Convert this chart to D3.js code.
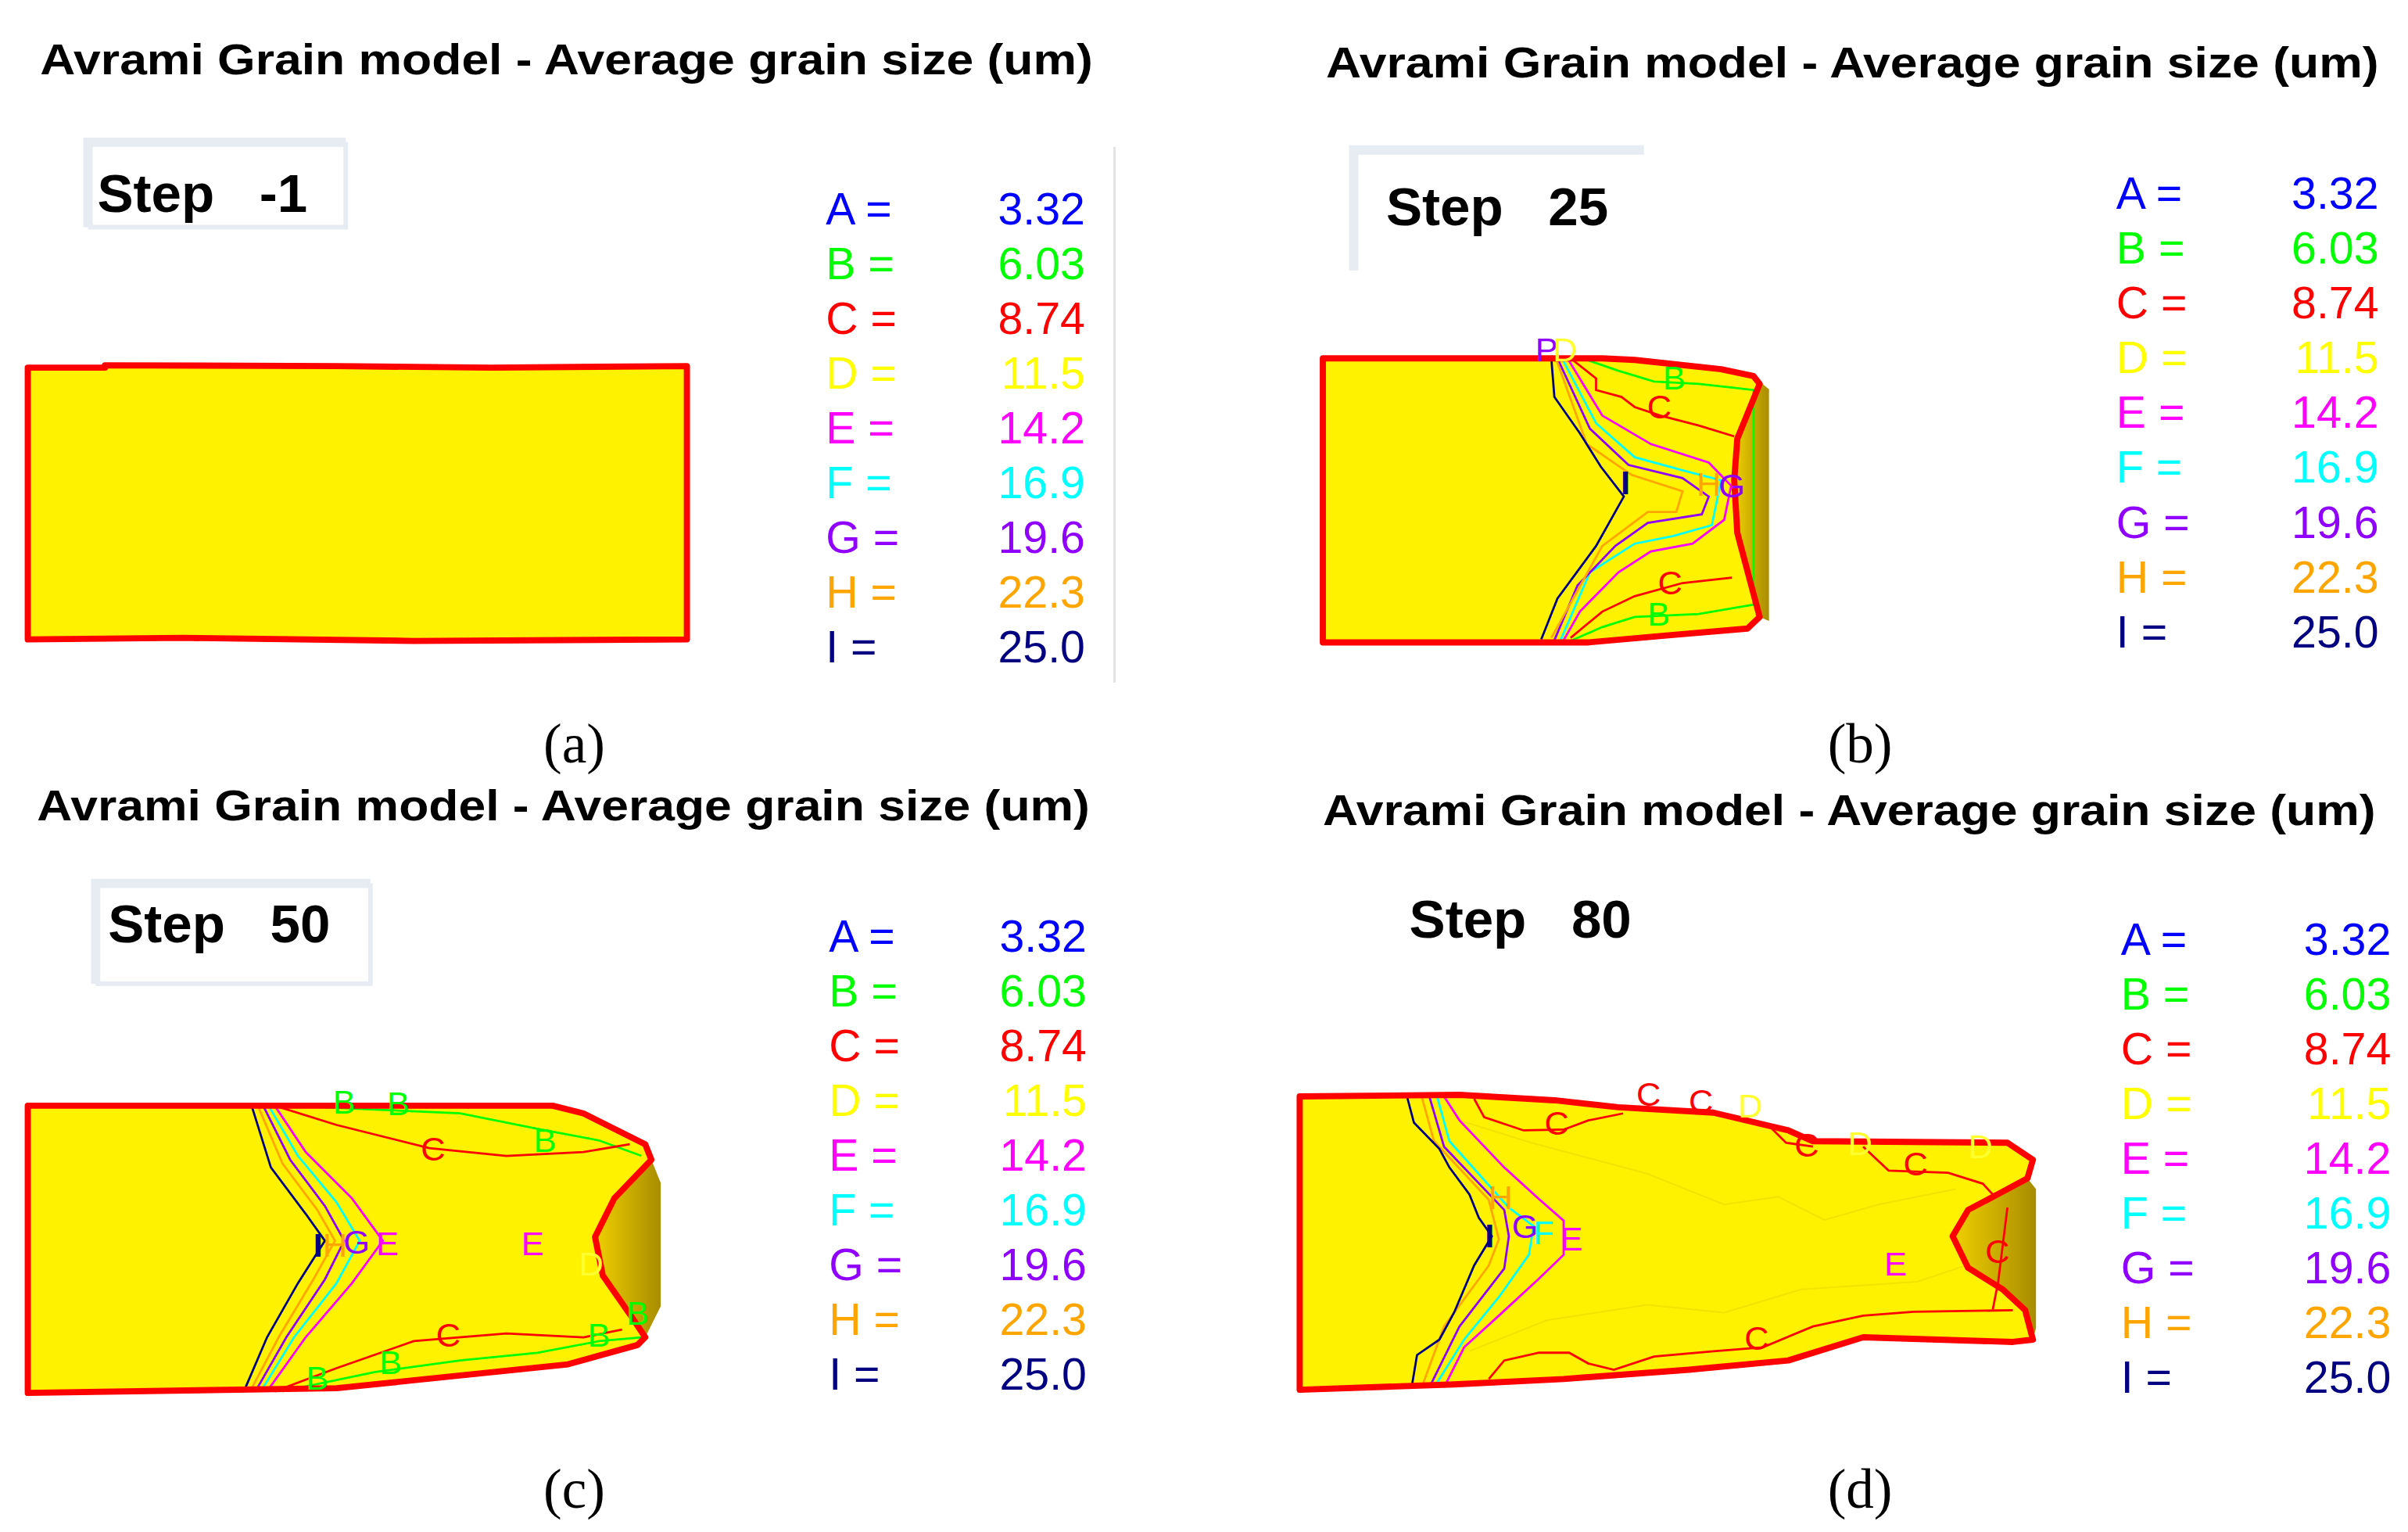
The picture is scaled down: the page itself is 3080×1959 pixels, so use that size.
<!DOCTYPE html>
<html>
<head>
<meta charset="utf-8">
<script src="https://cdn.jsdelivr.net/npm/d3@7"></script>
<style>
  html, body { margin: 0; padding: 0; background: #fff; }
  svg { display: block; }
</style>
</head>
<body>
<div id="chart"></div>
<script>
// legend levels
var levels = ["A", "B", "C", "D", "E", "F", "G", "H", "I"];
var levelValues = ["3.32", "6.03", "8.74", "11.5", "14.2", "16.9", "19.6", "22.3", "25.0"];
var levelColors = ["#0000ff", "#00ff00", "#ff0000", "#ffff00", "#ff00ff", "#00ffff", "#8f00ff", "#ffa500", "#000080"];

var titleText = "Avrami Grain model - Average grain size (um)";
var panelLetters = ["(a)", "(b)", "(c)", "(d)"];
var steps = ["-1", "25", "50", "80"];

// billet outlines, mm from top-left of each billet
var outlineA = [[0,0],[10,0],[10,-0.3],[40,-0.2],[60,0],[85.4,-0.2],[85.4,35.2],[50,35.4],[20,35],[0,35.2]];
var outlineB = [[0,0],[36.2,0],[40.4,0.2],[51.6,1.4],[55.8,2.3],[56.6,3.3],[53.7,10.4],[53.3,15.8],[53.7,22.6],[56.6,33.5],[55,35],[44.5,35.9],[34.2,36.8],[0,36.8]];
var outlineC = [[0,0],[68,0],[72,1],[80,5],[80.8,7],[76,12],[73.5,17],[74.5,22],[78,27],[80,30],[79,31],[70,33.5],[40,36.6],[0,37.2]];
var outlineD = [[0,0],[20.7,-0.2],[33,0.5],[41.3,1.4],[53.6,2.1],[63.3,4.4],[66.5,5.8],[91.7,6],[95,8.2],[94.3,10.6],[90.4,12.7],[86.6,14.7],[84.6,18.1],[86.6,22.2],[91.1,25],[94,27.7],[95,31.5],[92.4,31.8],[73,31.2],[63.3,34.2],[50.4,35.4],[34.2,36.6],[20,37.3],[0,38]];

// shaded die-contact zones
var shadeB = [[56.6,3],[57.8,4],[57.8,34],[56.6,33.5],[53.7,22.6],[53.3,15.8],[53.7,10.4]];
var shadeC = [[80.8,7],[82,10],[82,26],[80,30],[78,27],[74.5,22],[73.5,17],[76,12]];
var shadeD = [[94.3,10.6],[95.4,12],[95.4,30],[95,31.5],[94,27.7],[91.1,25],[86.6,22.2],[84.6,18.1],[86.6,14.7],[90.4,12.7]];

// contour lines [level, points]
var contoursB = [
  ["B", [[34.2,0.2],[38.3,1.6],[42.9,3],[48.7,3.3],[55.8,4.1],[55.8,31.9]]],
  ["B", [[32.1,36.6],[36.2,34.8],[40.4,33.5],[48.7,33.1],[55.8,31.9]]],
  ["C", [[32.1,0],[35.4,2.6],[35.4,4.1],[38.7,5],[40.4,6.3],[43.7,7.4],[48.7,8.7],[53.3,10.1]]],
  ["C", [[32.1,36.2],[36.2,32.8],[40.4,30.8],[46.6,29.1],[53,28.4]]],
  ["E", [[31.7,0],[36.2,7.4],[42.5,11.1],[50,13.5],[52.9,16.5],[52,20.9],[47.9,24],[42.5,25],[38.3,27.7],[33.3,32.8],[31.2,36.5]]],
  ["F", [[31,0],[35.4,8.4],[40.4,12.8],[46.6,14.5],[51.6,15.8],[50.4,21.6],[45.4,23],[40.4,24],[34.6,27.7],[30.8,36.5]]],
  ["G", [[30.4,0],[34.6,9.1],[39.6,13.8],[46.6,15.5],[50,17.9],[49.1,20.2],[42.1,21.3],[37.9,24.3],[33,29.4],[30,36.5]]],
  ["H", [[30.2,0],[34.2,11.1],[40,15.1],[46.6,17.2],[45.8,19.9],[42.1,19.9],[36.2,24.3],[29.6,36.2]]],
  ["I", [[29.6,0],[30,5],[33.3,9.7],[36,14],[39,17.9],[35.4,24.3],[30.4,31.1],[28.3,36.4]]]
];
var contoursC = [
  ["B", [[34,0],[45,0.5],[56,1],[66,3],[74,4.5],[79.5,6.5]]],
  ["B", [[33,37],[45,34.5],[56,33],[66,32],[74,30.5],[79.5,30]]],
  ["C", [[32,0],[40,2.5],[52,5.5],[62,6.5],[72,6],[78,5]]],
  ["C", [[32,37],[40,34],[50,30.5],[62,29.5],[72,30],[77,29]]],
  ["E", [[32,0],[36,6],[42,12],[46,17.5],[42,23],[36,30],[31,37]]],
  ["F", [[31.2,0],[35,6.5],[40,12.5],[43,17.5],[40,23],[34.5,30],[30.2,37]]],
  ["G", [[30.5,0],[34,7],[38.5,13],[41,17.5],[38.5,22.5],[33.5,30],[29.5,37]]],
  ["H", [[29.8,0],[33,7.5],[37.5,13.5],[39.8,17.5],[37,22.5],[32.5,30],[28.8,37]]],
  ["I", [[29,0],[31.5,8],[36,14],[38.5,17.5],[35,23],[31,30],[28,37]]]
];
var contoursD = [
  ["D", [[20.7,3.1],[30,6],[45,10],[55,14],[62,13],[68,16],[75,14],[85,12]]],
  ["D", [[22,33],[32,29],[45,27],[55,28],[65,25],[80,24],[86,22]]],
  ["C", [[22.6,0.3],[23.9,2.7],[29,4.4],[34.2,4.3],[37.4,3.1],[41.9,2.2]]],
  ["C", [[61,4],[63,6],[66.5,6.5]]],
  ["C", [[73,6.5],[76.3,9.6],[84,9.9],[88.5,11.3],[89.8,12.7]]],
  ["C", [[91.7,14.4],[91,20],[90.5,24],[89.8,27.6]]],
  ["C", [[24.5,36.6],[26.5,34.2],[31,33.2],[34.9,33.2],[37.4,34.6],[40.7,35.4],[45.9,33.7],[53.6,33],[60,32.5],[66.5,29.8],[73,28.4],[79.5,27.9],[92.4,27.7]]],
  ["E", [[18.7,0],[20.7,3.1],[26.5,9.2],[31,13.3],[34.2,16.1],[34.2,20.5],[31,23.6],[25.8,28.4],[21.3,32.5],[18.7,37.7]]],
  ["F", [[17.8,0],[19.4,5.8],[27.1,14.4],[30.3,16.8],[29.7,20.5],[25.8,26],[21.3,31.5],[17.4,37.7]]],
  ["G", [[16.8,0],[18.7,6.5],[26.5,14.7],[27.1,18.1],[26.5,22.3],[20.7,29.8],[16.8,37.7]]],
  ["H", [[15.8,0],[17.4,5.8],[24.5,13.4],[25.8,18.5],[24.5,21.9],[18.7,29.8],[15.8,37.7]]],
  ["I", [[13.9,0],[14.8,3.4],[18.1,6.8],[19.4,9.2],[22,12.7],[23.2,15.7],[24.9,18.1],[22.6,21.9],[20,28],[18.1,31.5],[15.2,33.5],[14.5,37.7]]]
];

// contour labels [level, x, y]
var labelsB = [["P",29,-1.2],["D",31.4,-1.2],["B",45.5,2.4],["C",43.6,6.2],["H",50,16.2],["G",53,16.4],["C",45,29],["B",43.5,33],["I",39.2,16]];
var labelsC = [["B",41,-0.6],["B",48,-0.4],["C",52.5,5.5],["B",67,4.4],["I",37.6,18],["H",39.8,18],["G",42.6,17.6],["E",46.6,17.8],["E",65.4,17.8],["D",73,20.4],["C",54.5,29.6],["B",74,29.6],["B",79,26.8],["B",47,33.2],["B",37.5,35.2]];
var labelsD = [["C",45.2,-0.4],["C",52,0.5],["D",58.4,1.2],["C",33.3,3.4],["C",65.7,6.2],["D",72.6,6],["D",88.2,6.4],["C",79.8,8.6],["H",26,13],["G",29.2,16.8],["F",31.6,17.6],["E",35.2,18.4],["E",77.2,21.6],["C",90.4,20],["C",59.2,31.2],["I",24.6,18]];

var panels = [
  {ox: 18,  oy: 238, outline: outlineA, shade: null,   contours: [],        labels: [],       cx: 367,  ty: 48, box: [57,92,167,55],  stepX: 63,  stepY: 137, legX: 535,  legR: 703,  legY: 135, capY: 481},
  {ox: 857, oy: 232, outline: outlineB, shade: shadeB, contours: contoursB, labels: labelsB, cx: 1200, ty: 50, box: [877,97,188,78], stepX: 898, stepY: 146, legX: 1371, legR: 1541, legY: 125, capY: 481},
  {ox: 18,  oy: 716, outline: outlineC, shade: shadeC, contours: contoursC, labels: labelsC, cx: 365,  ty: 531, box: [62,572,178,65], stepX: 70, stepY: 610, legX: 537,  legR: 704,  legY: 606, capY: 964},
  {ox: 842, oy: 710, outline: outlineD, shade: shadeD, contours: contoursD, labels: labelsD, cx: 1198, ty: 534, box: null,          stepX: 913, stepY: 607, legX: 1374, legR: 1549, legY: 608, capY: 964}
];

var W = 1560, H = 992;
var svg = d3.select("#chart").append("svg")
  .attr("width", 3080).attr("height", 1959)
  .attr("viewBox", "0 0 " + W + " " + H);

var color = d3.scaleOrdinal().domain(levels).range(levelColors);
var valueOf = d3.scaleOrdinal().domain(levels).range(levelValues);
var line = d3.line();

var defs = svg.append("defs");
var grad = defs.append("linearGradient").attr("id", "die").attr("x1", 0).attr("x2", 1);
grad.append("stop").attr("offset", "0%").attr("stop-color", "#f0d000");
grad.append("stop").attr("offset", "100%").attr("stop-color", "#a88c00");

// divider in panel a
svg.append("line").attr("x1", 722).attr("x2", 722).attr("y1", 95).attr("y2", 442)
  .attr("stroke", "#e4e4e4").attr("stroke-width", 1.5);

panels.forEach(function(p, i) {
  var g = svg.append("g");
  var x = d3.scaleLinear().domain([0, 100]).range([p.ox, p.ox + 500]);
  var y = d3.scaleLinear().domain([0, 100]).range([p.oy, p.oy + 500]);
  var pt = function(d) { return [x(d[0]), y(d[1])]; };

  g.append("text").attr("x", p.cx).attr("y", p.ty)
    .attr("text-anchor", "middle")
    .attr("font-family", "Liberation Sans, Arial, sans-serif")
    .attr("font-weight", "bold").attr("font-size", 28)
    .attr("textLength", 682).attr("lengthAdjust", "spacingAndGlyphs")
    .text(titleText);

  if (p.box) {
    g.append("path")
      .attr("d", "M" + p.box[0] + "," + (p.box[1] + p.box[3]) + "V" + p.box[1] + "H" + (p.box[0] + p.box[2]))
      .attr("fill", "none").attr("stroke", "#e6ecf2").attr("stroke-width", 6);
    if (i !== 1) {
      g.append("path")
        .attr("d", "M" + p.box[0] + "," + (p.box[1] + p.box[3]) + "H" + (p.box[0] + p.box[2]) + "V" + p.box[1])
        .attr("fill", "none").attr("stroke", "#e6ecf2").attr("stroke-width", 3);
    }
  }
  g.append("text").attr("x", p.stepX).attr("y", p.stepY)
    .attr("font-family", "Liberation Sans, Arial, sans-serif")
    .attr("font-weight", "bold").attr("font-size", 35)
    .attr("xml:space", "preserve")
    .text("Step   " + steps[i]);

  if (p.shade) {
    g.append("path").attr("d", line(p.shade.map(pt)) + "Z")
      .attr("fill", "url(#die)");
  }
  g.append("path").attr("d", line(p.outline.map(pt)) + "Z")
    .attr("fill", "#fff200");

  p.contours.forEach(function(c) {
    g.append("path").attr("d", line(c[1].map(pt)))
      .attr("fill", "none")
      .attr("stroke", c[0] === "D" ? "#f2e400" : color(c[0]))
      .attr("stroke-width", c[0] === "D" ? 1 : 1.4);
  });

  g.append("path").attr("d", line(p.outline.map(pt)) + "Z")
    .attr("fill", "none").attr("stroke", "#ff0000").attr("stroke-width", 4)
    .attr("stroke-linejoin", "round");

  p.labels.forEach(function(l) {
    g.append("text").attr("x", x(l[1])).attr("y", y(l[2]))
      .attr("text-anchor", "middle").attr("dy", "0.36em")
      .attr("font-family", "Liberation Sans, Arial, sans-serif").attr("font-size", 22)
      .attr("font-weight", l[0] === "I" ? "bold" : "normal")
      .attr("fill", l[0] === "P" ? color("G") : (l[0] === "D" ? "#ffff30" : color(l[0])))
      .text(l[0]);
  });

  var leg = g.selectAll(".leg").data(levels).enter().append("g");
  leg.append("text").attr("x", p.legX).attr("y", function(d, k) { return p.legY + k * 35.5; })
    .attr("dy", "0.35em")
    .attr("font-family", "Liberation Sans, Arial, sans-serif").attr("font-size", 29)
    .attr("fill", function(d) { return color(d); })
    .text(function(d) { return d + " ="; });
  leg.append("text").attr("x", p.legR).attr("y", function(d, k) { return p.legY + k * 35.5; })
    .attr("dy", "0.35em").attr("text-anchor", "end")
    .attr("font-family", "Liberation Sans, Arial, sans-serif").attr("font-size", 29)
    .attr("fill", function(d) { return color(d); })
    .text(function(d) { return valueOf(d); });

  g.append("text").attr("x", i % 2 ? 1205 : 372).attr("y", p.capY)
    .attr("text-anchor", "middle").attr("dy", "0.35em")
    .attr("font-family", "Liberation Serif, Times New Roman, serif").attr("font-size", 36)
    .text(panelLetters[i]);
});
</script>
</body>
</html>
